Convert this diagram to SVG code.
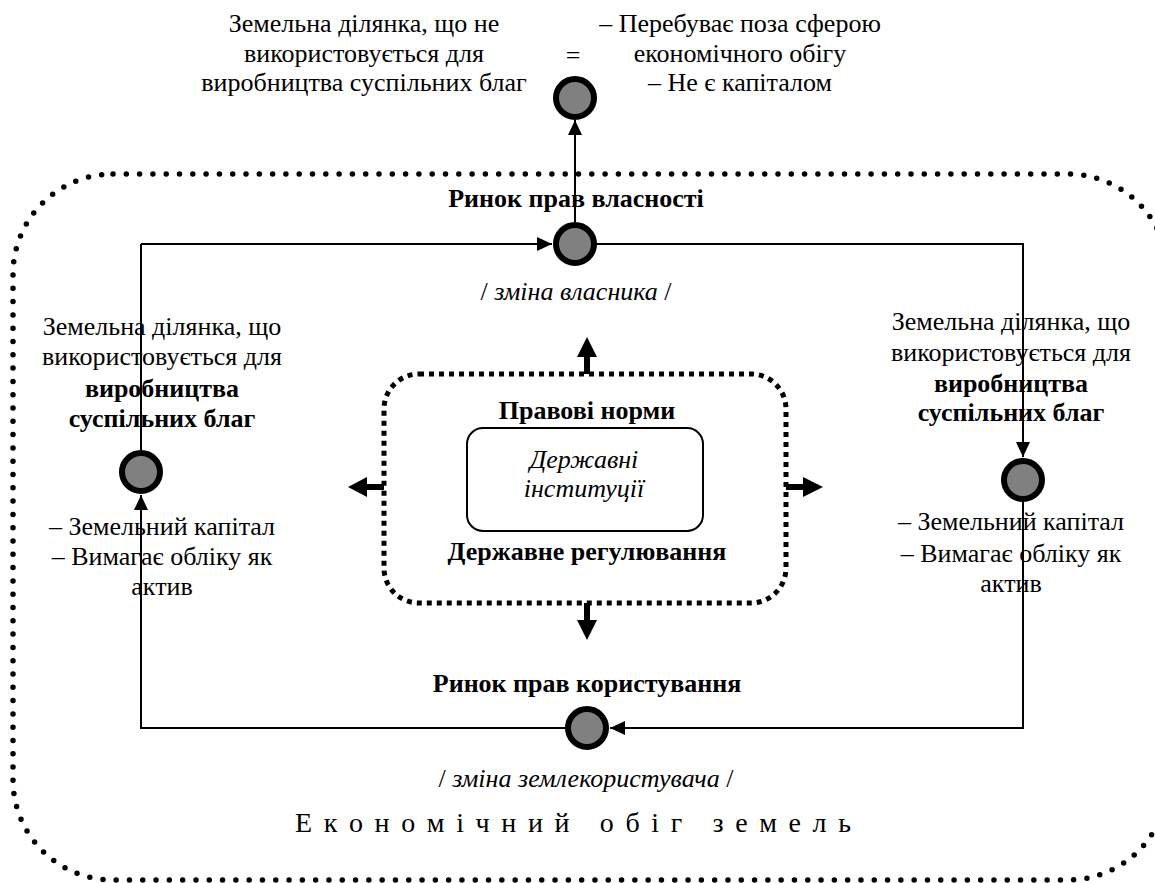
<svg xmlns="http://www.w3.org/2000/svg" width="1155" height="883" viewBox="0 0 1155 883">
<style>
text{font-family:"Liberation Serif","Times New Roman",serif;font-size:26px;fill:#000;text-anchor:middle}
.b{font-weight:bold}
.i{font-style:italic}
.ln{fill:none;stroke:#000;stroke-width:2}
.node{fill:#808080;stroke:#000;stroke-width:6}
</style>
<defs>
<marker id="ah" markerUnits="userSpaceOnUse" markerWidth="15" markerHeight="14" refX="15" refY="7" orient="auto">
<path d="M0,0 L15,7 L0,14 z" fill="#000"/>
</marker>
</defs>
<rect id="outer" x="13" y="174" width="1155" height="706" rx="100" fill="none" stroke="#000" stroke-width="5.5" stroke-linecap="round" stroke-dasharray="0 13.3"/>
<g id="connectors">
<path class="ln" d="M141,244 L552,244" marker-end="url(#ah)"/>
<path class="ln" d="M597,244 L1023,244 L1023,457" marker-end="url(#ah)"/>
<path class="ln" d="M1023,502 L1023,728 L610,728" marker-end="url(#ah)"/>
<path class="ln" d="M565,728 L141,728 L141,495" marker-end="url(#ah)"/>
<path class="ln" d="M141,450 L141,244"/>
<path class="ln" d="M575,222 L575,120" marker-end="url(#ah)"/>
<g fill="#000">
<rect x="584" y="355" width="6" height="19"/><polygon points="577,357 597,357 587,337"/>
<rect x="584" y="603" width="6" height="19"/><polygon points="577,620 597,620 587,640"/>
<rect x="365" y="484" width="19" height="6"/><polygon points="367,477 367,497 348,487"/>
<rect x="786" y="484" width="19" height="6"/><polygon points="803,477 803,497 823,487"/>
</g>
</g>
<g id="top-node">
<circle class="node" cx="575" cy="98" r="19"/>
<text x="364" y="32">Земельна ділянка, що не</text>
<text x="364" y="62">використовується для</text>
<text x="364" y="91">виробництва суспільних благ</text>
<text x="573" y="64">=</text>
<text x="740" y="32">– Перебуває поза сферою</text>
<text x="740" y="62">економічного обігу</text>
<text x="740" y="91">– Не є капіталом</text>
</g>
<g id="ownership-market">
<circle class="node" cx="575" cy="244" r="19"/>
<text class="b" x="576" y="207">Ринок прав власності</text>
<text x="576" y="300">/ <tspan class="i">зміна власника</tspan> /</text>
</g>
<g id="use-market">
<circle class="node" cx="587" cy="728" r="19"/>
<text class="b" x="587" y="692">Ринок прав користування</text>
<text x="586" y="787">/ <tspan class="i">зміна землекористувача</tspan> /</text>
</g>
<g id="left-node">
<circle class="node" cx="141" cy="472" r="19"/>
<text x="162" y="335">Земельна ділянка, що</text>
<text x="162" y="365">використовується для</text>
<text class="b" x="162" y="397">виробництва</text>
<text class="b" x="162" y="427">суспільних благ</text>
<text x="162" y="535">– Земельний капітал</text>
<text x="162" y="565">– Вимагає обліку як</text>
<text x="162" y="595">актив</text>
</g>
<g id="right-node">
<circle class="node" cx="1023" cy="480" r="19"/>
<text x="1011" y="330">Земельна ділянка, що</text>
<text x="1011" y="361">використовується для</text>
<text class="b" x="1011" y="392">виробництва</text>
<text class="b" x="1011" y="421">суспільних благ</text>
<text x="1011" y="530">– Земельний капітал</text>
<text x="1011" y="562">– Вимагає обліку як</text>
<text x="1011" y="592">актив</text>
</g>
<g id="state">
<rect x="384" y="374" width="402" height="229" rx="35" fill="none" stroke="#000" stroke-width="5" stroke-dasharray="5 5"/>
<text class="b" x="587" y="419">Правові норми</text>
<text class="b" x="587" y="560">Державне регулювання</text>
</g>
<g id="institutions">
<rect x="467" y="428" width="236" height="103" rx="16" fill="none" stroke="#000" stroke-width="2"/>
<text class="i" x="584" y="468">Державні</text>
<text class="i" x="584" y="497">інституції</text>
</g>
<text id="caption" x="295" y="832" style="font-size:28px;text-anchor:start" textLength="556" lengthAdjust="spacing">Е к о н о м і ч н и й &#160; о б і г &#160; з е м е л ь</text>
</svg>
